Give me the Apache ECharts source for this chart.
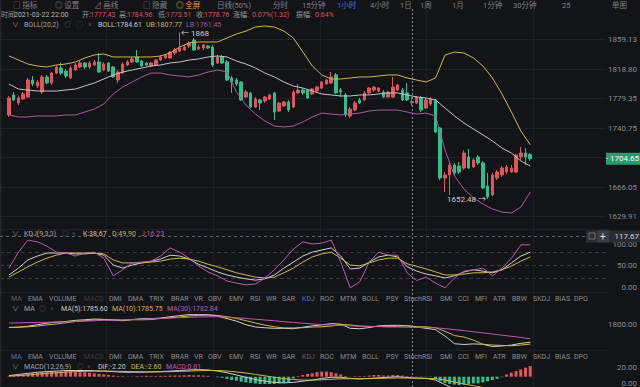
<!DOCTYPE html>
<html><head><meta charset="utf-8">
<script src="https://cdn.jsdelivr.net/npm/echarts@6.0.0/dist/echarts.min.js"></script>
<style>html,body{margin:0;padding:0;background:#131417;}#c{width:640px;height:387px;}</style>
</head><body><div id="c"></div>
<script>
// ---------------- DATA ----------------
const openP = [1761.4,1787.3,1776.9,1782.1,1784.7,1806.7,1798.9,1791.1,1810.6,1802.8,
 1815.7,1822.2,1818.3,1809.3,1819.6,1823.5,1828.7,1823.5,1826.1,1830.0,
 1819.6,1828.7,1823.5,1806.7,1815.7,1826.1,1830.0,1836.5,1831.3,1828.7,
 1824.8,1826.1,1832.6,1835.2,1835.2,1841.6,1844.2,1845.5,1850.7,1858.5,
 1846.8,1848.1,1850.7,1849.4,1828.7,1836.5,1830.0,1809.3,1806.7,1804.1,
 1784.7,1789.9,1771.7,1780.8,1779.5,1782.1,1789.9,1766.5,1773.0,1778.2,
 1771.7,1789.9,1793.7,1793.7,1788.6,1792.4,1796.3,1801.5,1802.8,1813.2,
 1793.7,1787.3,1760.1,1767.8,1780.8,1780.8,1789.9,1793.7,1792.4,1791.1,
 1784.7,1784.7,1793.7,1793.7,1789.9,1777.43,1776.9,1783.4,1770.4,1775.6,
 1780.8,1744.5,1679.8,1683.7,1696.6,1695.3,1692.7,1707.0,1694.0,1707.0,
 1699.2,1669.4,1657.8,1679.8,1683.7,1687.5,1687.5,1687.5,1707.0,1712.1,
 1710.2];
const closeP = [1783.4,1780.8,1783.4,1788.6,1806.7,1801.5,1804.1,1810.6,1802.8,1815.7,
 1823.5,1815.7,1811.9,1822.2,1826.1,1828.7,1823.5,1828.7,1830.0,1817.0,
 1827.4,1818.3,1810.6,1817.0,1827.4,1830.0,1833.9,1830.0,1824.8,1826.1,
 1828.7,1832.6,1836.5,1839.1,1842.9,1845.5,1848.1,1849.4,1854.6,1845.5,
 1849.4,1852.0,1848.1,1826.1,1836.5,1828.7,1806.7,1804.1,1801.5,1780.8,
 1791.1,1771.7,1782.1,1776.9,1784.7,1787.3,1765.2,1776.9,1778.2,1767.8,
 1791.1,1793.7,1789.9,1783.4,1795.0,1797.6,1804.1,1806.7,1810.6,1789.9,
 1791.1,1761.4,1769.1,1776.9,1776.9,1789.9,1796.3,1797.6,1796.3,1784.7,
 1791.1,1797.6,1800.2,1780.8,1780.8,1778.76,1784.7,1767.8,1780.8,1782.1,
 1739.3,1679.8,1683.7,1696.6,1686.3,1687.5,1712.1,1692.7,1703.1,1699.2,
 1666.8,1655.2,1683.7,1687.5,1692.7,1694.0,1692.7,1709.6,1712.1,1707.0,
 1704.65];
const lowP = [1758.8,1779.5,1774.3,1780.8,1783.4,1798.9,1796.3,1788.6,1801.5,1800.2,
 1814.5,1813.2,1809.3,1808.0,1818.3,1822.2,1820.9,1820.9,1824.8,1815.7,
 1818.3,1817.0,1809.3,1802.8,1814.5,1824.8,1828.7,1828.7,1823.5,1824.8,
 1823.5,1824.8,1831.3,1833.9,1833.9,1839.1,1842.9,1844.2,1848.1,1844.2,
 1845.5,1845.5,1846.8,1823.5,1827.4,1827.4,1805.4,1789.9,1798.9,1779.5,
 1783.4,1770.4,1770.4,1767.8,1776.9,1780.8,1754.9,1765.2,1771.7,1765.2,
 1770.4,1788.6,1787.3,1782.1,1787.3,1791.1,1795.0,1800.2,1801.5,1788.6,
 1784.7,1758.8,1757.5,1766.5,1775.6,1779.5,1788.6,1791.1,1791.1,1783.4,
 1783.4,1783.4,1792.4,1779.5,1779.5,1773.51,1775.6,1765.2,1769.1,1773.0,
 1738.0,1677.2,1661.6,1657.8,1682.4,1685.0,1690.1,1691.4,1692.7,1696.6,
 1665.5,1652.48,1656.5,1677.2,1681.1,1685.0,1686.3,1686.3,1703.1,1696.6,
 1702.0];
const highP = [1786.0,1791.1,1786.0,1791.1,1809.3,1811.9,1806.7,1813.2,1813.2,1817.0,
 1826.1,1828.7,1820.9,1824.8,1828.7,1831.3,1830.0,1831.3,1832.6,1841.6,
 1830.0,1830.0,1824.8,1819.6,1830.0,1832.6,1836.5,1845.5,1832.6,1830.0,
 1830.0,1833.9,1839.1,1840.4,1844.2,1848.1,1868.0,1852.0,1857.2,1861.1,
 1852.0,1853.3,1852.0,1852.0,1839.1,1839.1,1832.6,1811.9,1809.3,1805.4,
 1793.7,1791.1,1784.7,1782.1,1786.0,1788.6,1791.1,1778.2,1779.5,1780.8,
 1793.7,1801.5,1796.3,1795.0,1796.3,1798.9,1805.4,1808.0,1817.0,1815.7,
 1796.3,1789.9,1771.7,1779.5,1783.4,1792.4,1797.6,1798.9,1797.6,1793.7,
 1792.4,1810.6,1801.5,1796.3,1802.8,1784.96,1786.0,1786.0,1783.4,1784.7,
 1782.1,1745.8,1687.5,1699.2,1699.2,1700.5,1716.0,1717.3,1705.7,1709.6,
 1701.8,1686.3,1686.3,1690.1,1695.3,1696.6,1696.6,1710.9,1720.0,1718.7,
 1712.0];

// indicators, read at every second candle
const bollUp = [1837.8,1832.6,1827.4,1824.8,1823.5,1826.1,1827.4,1830.0,1835.2,1839.1,
 1840.4,1836.5,1836.5,1836.5,1836.5,1836.5,1837.8,1841.6,1849.4,1854.6,
 1855.9,1855.9,1855.9,1861.1,1866.2,1870.1,1875.3,1876.6,1875.3,1870.1,
 1861.1,1842.9,1824.8,1813.2,1808.0,1808.0,1809.3,1810.6,1810.6,1811.9,
 1813.2,1813.2,1809.3,1806.7,1804.1,1809.3,1839.1,1842.9,1841.6,1835.2,
 1824.8,1809.3,1788.6,1765.2,1740.6,1722.5];
const bollMid = [1801.5,1795.0,1793.7,1792.4,1792.4,1792.4,1793.7,1795.0,1798.9,1802.8,
 1808.0,1813.2,1817.0,1819.6,1822.2,1824.8,1826.1,1828.7,1830.0,1832.6,
 1833.9,1836.5,1837.8,1836.5,1831.3,1827.4,1822.2,1815.7,1810.6,1804.1,
 1798.9,1796.3,1792.4,1788.6,1787.3,1786.0,1786.0,1787.3,1787.3,1788.6,
 1789.9,1789.9,1787.3,1784.7,1783.4,1780.8,1770.4,1760.1,1751.0,1743.2,
 1735.5,1727.7,1718.6,1712.1,1701.8,1695.3];
const bollLow = [1761.4,1758.8,1758.8,1760.1,1760.1,1760.1,1761.4,1761.4,1765.2,1769.1,
 1775.6,1788.6,1797.6,1804.1,1810.6,1815.7,1815.7,1813.2,1811.9,1810.6,
 1813.2,1817.0,1819.6,1817.0,1791.1,1774.3,1762.6,1753.6,1747.1,1745.8,
 1747.1,1752.3,1758.8,1763.9,1762.6,1761.4,1762.6,1763.9,1766.5,1767.8,
 1767.8,1767.8,1765.2,1762.6,1763.9,1760.1,1716.0,1682.4,1665.5,1653.9,
 1646.1,1639.6,1635.7,1634.4,1642.2,1661.6];
const kdjK = [28,44,63,72,79,79,79,77,77,79, 74,51,44,51,56,60,65,74,72,65,
 53,44,35,28,23,19,16,19,28,44, 58,72,81,86,91,72,42,44,58,70,
 74,70,47,37,30,26,21,26,35,40, 37,33,40,56,72,81];
const kdjD = [23,35,47,58,67,74,79,79,79,79, 77,63,56,56,56,58,60,65,67,65,
 60,53,47,40,33,28,23,21,23,33, 44,58,70,77,81,67,51,49,56,63,
 67,67,54,48,42,35,28,28,30,33, 33,35,40,49,60,70];
const kdjJ = [44,81,109,105,95,81,79,72,79,81, 67,26,40,56,58,60,72,91,81,67,
 49,35,26,14,9,5,7,21,40,63, 88,105,100,102,109,58,-2,12,58,81,
 74,74,33,15,23,9,-2,21,37,40, 44,26,44,67,98,98];
const ma5 = [1782,1784,1789,1797,1805,1811,1814,1820,1823,1827, 1825,1821,1818,1824,1829,1829,1832,1839,1845,1850,
 1850,1850,1842,1829,1816,1797,1785,1781,1778,1778, 1776,1784,1791,1796,1803,1800,1778,1776,1782,1791,
 1793,1794,1791,1785,1778,1771,1737,1697,1693,1696, 1694,1682,1685,1690,1699,1705];
const ma10 = [1783,1784,1786,1790,1796,1801,1807,1814,1818,1822, 1824,1823,1822,1823,1823,1824,1830,1834,1838,1843,
 1846,1848,1846,1839,1830,1818,1806,1795,1786,1780, 1780,1781,1785,1786,1790,1798,1796,1790,1788,1788,
 1786,1788,1792,1786,1786,1781,1762,1740,1732,1716, 1694,1690,1688,1686,1690,1695];
const ma30 = [1806,1807,1808,1809,1810,1811,1812,1814,1816,1818, 1820,1821,1822,1824,1826,1828,1830,1832,1834,1836,
 1838,1839,1839,1837,1834,1830,1826,1822,1818,1813, 1809,1805,1801,1797,1795,1793,1791,1789,1788,1787,
 1786,1785,1784,1783,1783,1781,1776,1771,1766,1760, 1754,1748,1742,1736,1730,1723];
const macdDif = [2,4,6,8,9,10,11,11,11,10.5, 10,9,8,8,8,8.5,9,10,11,12,
 12.5,12,10,7,3,-1,-5,-8,-10,-11, -10,-8,-6,-3,-1,-1,-3,-4,-3,-2,
 -1,0,-1.5,-2.5,-3,-6,-14,-22,-26,-28, -30,-31,-30,-28,-25,-22];
const macdDea = [1,2,3,4.5,6,7,8,9,9.5,10, 10,9.8,9.4,9,8.7,8.6,8.7,9,9.5,10,
 10.7,11,11,10,8.5,6.5,4,1.5,-1,-3.5, -5,-6,-6,-5.5,-4.5,-3.8,-3.5,-3.5,-3.4,-3,
 -2.6,-2.2,-2.4,-2.7,-3,-3.5,-6,-9.5,-13,-16, -19,-22,-24,-25,-25,-24.5];
const macdHist = [1,2,3,4,5,6,7,8,8,9, 9,9,10,10,9,8,8,7,6,5,
 4,3,2,1,1,0.5,0.5,1,1,1.5, 1,1,1.5,1.5,2,2,2,2.5,3,2.5,
 2.5,2,1.5,0,-1,-2,-4,-6,-7,-9, -10,-11,-12,-13,-13,-13,-13,-12,-11,-10,
 -3,1,3,5,6,8,9,9,8,6, 4,1,0.5,1,1,1,2,3,3,2,
 2,3,3,2,1,0.81,0.5,-0.5,-0.3,-0.5, -4,-8,-11,-13,-14,-15,-14,-13,-12,-12,
 -10,-8,-6,-4,-1,4,7,10,13,16, 19];

const mainTickLabels = ['1629.91','1666.05','1704.65','1740.75','1779.35','1818.80','1859.13'];
const crossIndex = 85;
const crossKdj = 117.67;
const tabNames = ['MA','EMA','VOLUME','MACD','DMI','DMA','TRIX','BRAR','VR','OBV','EMV','RSI','WR','SAR','KDJ','ROC','MTM','BOLL','PSY','StochRSI','SMI','CCI','MFI','ATR','BBW','SKDJ','BIAS','DPO'];
const toolbarNames = ['□ 指标','◎ 设置','⊿ 画线','□ 隐藏','◎ 全屏','日线(50%)','分时','15分钟','1小时','4小时','1日','1周','1月','1分钟','30分钟','25','单图'];

// hourly category labels (not displayed)
const categories = [];
(function(){
  const end = Date.UTC(2021,2,22,22);
  const p = n => String(n).padStart(2,'0');
  for (let i = 0; i < closeP.length; i++) {
    const t = new Date(end + (i - crossIndex) * 3600e3);
    categories.push(t.getUTCFullYear()+'-'+p(t.getUTCMonth()+1)+'-'+p(t.getUTCDate())+' '+p(t.getUTCHours())+':00');
  }
})();
const kcats = categories.filter((_, i) => i % 2 === 0);

// ---------------- STYLE ----------------
const FF = 'Roboto, "Noto Sans CJK SC", sans-serif';
const C = {bg:'#131417', up:'#e2545b', down:'#2fbf88', ub:'#cdb84c', mb:'#c4c4c4', lb:'#ab5aa2',
  k:'#cfcfcf', d:'#cdb84c', j:'#c257b5', txt:'#8b8d92', dim:'#4b4d53', blue:'#3b7bd6', red:'#d65458'};

const grids = [
 {left:6.6, top:22, width:526, height:204},
 {left:8.97, top:22, width:521.4, height:204},
 {left:0, top:39.5, width:608, height:177},
 {left:-33.5, top:9, width:681, height:378},
 {left:0, top:9, width:608, height:378},
 {left:8.97, top:230, width:521.4, height:65},
 {left:0, top:244, width:608, height:43},
 {left:0, top:252.6, width:608, height:25.8},
 {left:8.97, top:312, width:521.4, height:38},
 {left:0, top:305.15, width:608, height:19},
 {left:6.6, top:362, width:526, height:40},
 {left:8.97, top:362, width:521.4, height:40},
 {left:0, top:367, width:608, height:18}
];
const lab = (fmt) => ({align:'right', margin:31, color:C.txt, fontSize:8, fontFamily:FF, formatter:fmt});
const bare = {axisLine:{show:false}, axisTick:{show:false}};
const lastClose = closeP[closeP.length-1];

const xAxes = grids.map((g,i)=>({gridIndex:i, type:'value', min:0, max:1, show:false}));
[0,10].forEach(i => xAxes[i] = {gridIndex:i, type:'category', data:categories, boundaryGap:true, show:false});
[1,5,8,11].forEach(i => xAxes[i] = {gridIndex:i, type:'category', data:kcats, boundaryGap:false, show:false});
xAxes[3] = Object.assign({gridIndex:3, type:'value', min:0, max:6, interval:1, axisLabel:{show:false},
  splitLine:{show:true, lineStyle:{color:'#1d1f23', width:1}}}, bare);

const yAxes = grids.map((g,i)=>({gridIndex:i, type:'value', min:0, max:1, show:false}));
[0,1].forEach(i => yAxes[i] = {gridIndex:i, type:'value', min:1617.61, max:1881.79, show:false});
// the tick hidden under the last-price tag is left blank (the tag shows it)
yAxes[2] = Object.assign({gridIndex:2, type:'value', position:'right', min:0, max:6, interval:1,
  splitLine:{show:true, lineStyle:{color:'#1f2125'}},
  axisLabel:lab(v => { const s = mainTickLabels[Math.round(v)]; return s === lastClose.toFixed(2) ? '' : s; })}, bare);
yAxes[4] = {gridIndex:4, type:'value', position:'right', min:0, max:1, axisLine:{show:true, lineStyle:{color:'#26282d'}},
  axisTick:{show:false}, axisLabel:{show:false}, splitLine:{show:false}};
yAxes[5] = {gridIndex:5, type:'value', min:-18.6, max:132.56, show:false};
yAxes[6] = Object.assign({gridIndex:6, type:'value', position:'right', min:0, max:100, interval:50,
  splitLine:{show:false}, axisLabel:lab(v => v.toFixed(2))}, bare);
yAxes[7] = Object.assign({gridIndex:7, type:'value', min:0, max:2, interval:1, axisLabel:{show:false},
  splitLine:{show:true, lineStyle:{color:'#3a3d44', type:[4,3]}}}, bare);
yAxes[8] = {gridIndex:8, type:'value', min:1663.95, max:1863.95, show:false};
yAxes[9] = Object.assign({gridIndex:9, type:'value', position:'right', min:1800, max:1900, interval:100,
  splitLine:{show:false}, axisLabel:Object.assign(lab(v => v === 1800 ? v.toFixed(2) : ''), {showMaxLabel:false})}, bare);
[10,11].forEach(i => yAxes[i] = {gridIndex:i, type:'value', min:-18.33, max:26.11, show:false});
yAxes[12] = Object.assign({gridIndex:12, type:'value', position:'right', min:0, max:20, interval:20,
  splitLine:{show:false}, axisLabel:lab(v => v.toFixed(2))}, bare);

const line = (name, data, ax, color) => ({type:'line', name, data, xAxisIndex:ax, yAxisIndex:ax,
  symbol:'none', lineStyle:{width:1, color}, itemStyle:{color}, silent:true, z:3});

const candleData = openP.map((o,i) => [o, closeP[i], lowP[i], highP[i]]);
let hiIdx = 0, loIdx = 0;
highP.forEach((v,i) => { if (v > highP[hiIdx]) hiIdx = i; });
lowP.forEach((v,i) => { if (v < lowP[loIdx]) loIdx = i; });

const option = {
  backgroundColor: C.bg,
  animation: false,
  grid: grids,
  xAxis: xAxes,
  yAxis: yAxes,
  series: [
    {type:'candlestick', xAxisIndex:0, yAxisIndex:0, data:candleData, barWidth:3,
     itemStyle:{color:C.up, color0:C.down, borderColor:C.up, borderColor0:C.down, borderWidth:1},
     markPoint:{symbol:'circle', symbolSize:1, itemStyle:{color:'rgba(0,0,0,0)'}, silent:true,
       data:[
        {coord:[categories[hiIdx], highP[hiIdx]], value:highP[hiIdx],
         label:{show:true, position:'right', distance:1, offset:[0,1], color:'#cfcfcf', fontSize:8, fontFamily:FF, formatter:p=>'← '+p.value}},
        {coord:[categories[loIdx], lowP[loIdx]], value:lowP[loIdx],
         label:{show:true, position:'left', distance:1, color:'#cfcfcf', fontSize:8, fontFamily:FF, formatter:p=>p.value.toFixed(2)+' →'}}
       ]}},
    line('UB', bollUp, 1, C.ub), line('BOLL', bollMid, 1, C.mb), line('LB', bollLow, 1, C.lb),
    line('K', kdjK, 5, C.k), line('D', kdjD, 5, C.d), line('J', kdjJ, 5, C.j),
    line('MA5', ma5, 8, C.k), line('MA10', ma10, 8, C.d), line('MA30', ma30, 8, C.j),
    {type:'bar', name:'MACD', data:macdHist, xAxisIndex:10, yAxisIndex:10, barWidth:3, silent:true,
     itemStyle:{color:p => p.value >= 0 ? C.up : C.down}},
    line('DIF', macdDif, 11, C.k), line('DEA', macdDea, 11, C.d)
  ]
};

const chart = echarts.init(document.getElementById('c'), null, {renderer:'svg', width:640, height:387});
chart.setOption(option);

// ---------------- UI TEXT / CROSSHAIR ----------------
const T = (text, x, y, fill, size, extra) => Object.assign({type:'text', x, y, silent:true, z:100,
  style:Object.assign({text, fill, font:(size||8)+'px '+FF, verticalAlign:'middle'}, (extra||{}))});
const g = [];
// toolbar
const tbX = [13,55,94,143,176,217,273,302,337,370,400,420,452,483,513,562,612];
toolbarNames.forEach((t,i) => g.push(T(t, tbX[i], 5, i===4 ? '#e39a3b' : (i===8 ? C.blue : '#7e8085'), 7.5)));
// info row
const info = [['时间',1,'#9a9a9a'],[categories[crossIndex],14,'#b4b4b4'],['开:',82,'#9a9a9a'],[openP[crossIndex].toFixed(2),90,C.red],
 ['高:',119,'#9a9a9a'],[highP[crossIndex].toFixed(2),127,C.red],['低:',158,'#9a9a9a'],[lowP[crossIndex].toFixed(2),166,C.red],
 ['收:',196,'#9a9a9a'],[closeP[crossIndex].toFixed(2),204,C.red],['涨幅:',233,'#9a9a9a'],['0.07%(1.32)',252,C.red],
 ['振幅:',296,'#9a9a9a'],['0.64%',315,C.red]];
info.forEach(s => g.push(T(s[0], s[1], 15, s[2], 7)));
// legends
const legendRow = (y, items) => items.forEach(s => g.push(T(s[0], s[1], y, s[2], 7)));
legendRow(25, [['∨',12,C.txt],['BOLL(20,2)',24,'#a3a5a9'],['◎',64,C.dim],['◌',76,C.dim],['×',88,C.dim],
  ['BOLL:1784.61',98,'#c8c8c8'],['UB:1807.77',146,C.ub],['LB:1761.45',186,C.lb]]);
legendRow(234, [['∨',12,C.txt],['KDJ(9,3,3)',24,'#a3a5a9'],['◎',62,C.dim],['×',72,C.dim],
  ['K:38.67',83,'#c8c8c8'],['D:49.90',112,C.d],['J:16.23',141,C.j]]);
legendRow(309, [['∨',12,C.txt],['MA',24,'#a3a5a9'],['◎',39,C.dim],['×',50,C.dim],
  ['MA(5):1785.60',61,'#c8c8c8'],['MA(10):1785.75',112,C.d],['MA(30):1782.84',167,C.j]]);
legendRow(367, [['∨',12,C.txt],['MACD(12,26,9)',24,'#a3a5a9'],['◎',77,C.dim],['×',87,C.dim],
  ['DIF:-2.20',98,'#c8c8c8'],['DEA:-2.60',131,C.d],['MACD:0.81',166,C.j]]);
// tab rows
const tabX = [11,28,49,84,109,128,149,171,194,208,229,250,266,282,302,320,340,362,386,404,440,458,475,493,512,533,555,574];
tabNames.forEach((t,i) => {
  const c1 = t==='KDJ' ? C.blue : (t==='MA' ? '#5e6066' : (t==='MACD' ? '#3c3e43' : C.txt));
  const c2 = t==='MA' ? C.blue : (t==='KDJ' ? '#5e6066' : (t==='MACD' ? '#3c3e43' : C.txt));
  g.push(T(t, tabX[i], 298.5, c1, 7));
  g.push(T(t, tabX[i], 356.5, c2, 7));
});
// panel separators
[229.5, 292.5, 350.5].forEach(y => g.push({type:'line', silent:true, z:1, shape:{x1:0,y1:y,x2:608,y2:y}, style:{stroke:'#1d1f23', lineWidth:1}}));
// left edge strip
g.push({type:'rect', silent:true, z:1, shape:{x:0,y:0,width:1.5,height:387}, style:{fill:'#26272b'}});
// crosshair
const cx = Math.round(chart.convertToPixel({xAxisIndex:0}, categories[crossIndex])) + 0.5;
const ky = Math.round(chart.convertToPixel({yAxisIndex:5}, crossKdj)) + 0.5;
g.push({type:'line', silent:true, z:90, shape:{x1:cx,y1:9,x2:cx,y2:387}, style:{stroke:'#8a8c90', lineWidth:1, lineDash:[2,2]}});
g.push({type:'line', silent:true, z:90, shape:{x1:0,y1:ky,x2:586,y2:ky}, style:{stroke:'#5d6068', lineWidth:1, lineDash:[3,3]}});
g.push({type:'rect', silent:true, z:95, shape:{x:586,y:ky-6,width:54,height:12}, style:{fill:'#2a2c31'}});
g.push({type:'rect', silent:true, z:96, shape:{x:589,y:ky-3.5,width:6,height:6}, style:{fill:'none', stroke:'#6d7077', lineWidth:1}});
g.push({type:'rect', silent:true, z:96, shape:{x:597,y:ky-6,width:12,height:12}, style:{fill:'#3a3c42'}});
g.push(T('+', 600, ky, '#e0e0e0', 10));
g.push(T(crossKdj.toFixed(2), 639, ky, '#d0d0d0', 8, {align:'right'}));
// last price tag
const py = chart.convertToPixel({yAxisIndex:0}, lastClose);
g.push({type:'rect', silent:true, z:95, shape:{x:606,y:py-6,width:34,height:12}, style:{fill:'#2a9b6b'}});
g.push(T('- ' + lastClose.toFixed(2), 639, py, '#ffffff', 8, {align:'right'}));

chart.setOption({graphic: g});
</script></body></html>
